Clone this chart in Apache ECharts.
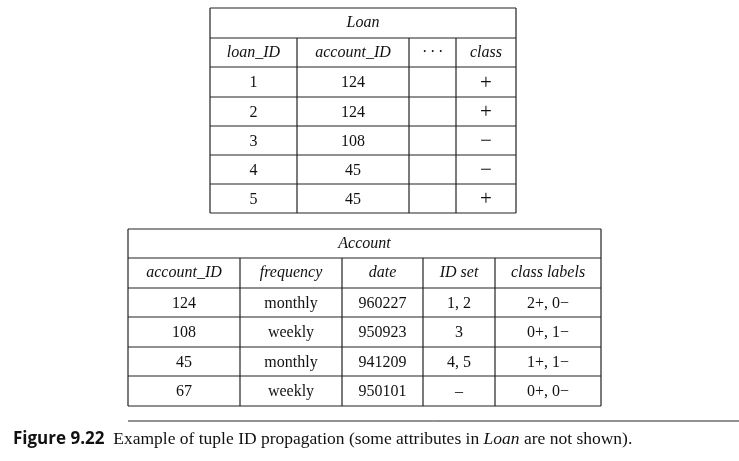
<!DOCTYPE html>
<html><head><meta charset="utf-8">
<script src="https://cdn.jsdelivr.net/npm/echarts@6/dist/echarts.min.js"></script>
<style>html,body{margin:0;background:#fff}#c{width:739px;height:461px}</style>
</head><body><div id="c"></div>
<script>
const loanTitle = 'Loan';
const loanHeaders = ['loan_ID', 'account_ID', '\u00b7 \u00b7 \u00b7', 'class'];
const loanRows = [
  ['1', '124', '', '+'],
  ['2', '124', '', '+'],
  ['3', '108', '', '\u2212'],
  ['4', '45', '', '\u2212'],
  ['5', '45', '', '+']
];
const accountTitle = 'Account';
const accountHeaders = ['account_ID', 'frequency', 'date', 'ID set', 'class labels'];
const accountRows = [
  ['124', 'monthly', '960227', '1, 2', '2+, 0\u2212'],
  ['108', 'weekly', '950923', '3', '0+, 1\u2212'],
  ['45', 'monthly', '941209', '4, 5', '1+, 1\u2212'],
  ['67', 'weekly', '950101', '\u2013', '0+, 0\u2212']
];
const captionBold = 'Figure 9.22';
const captionText = 'Example of tuple ID propagation (some attributes in ';
const captionItalic = 'Loan';
const captionEnd = ' are not shown).';

const serif = '"Liberation Serif", "DejaVu Serif", serif';
const els = [];
function line(x1,y1,x2,y2,w){els.push({type:'line',shape:{x1,y1,x2,y2},style:{stroke:'#222',lineWidth:w||1.2}});}
function txt(x,y,t,italic,size,align){els.push({type:'text',x,y,style:{text:t,font:(italic?'italic ':'')+(size||16)+'px '+serif,fill:'#111',align:align||'center',verticalAlign:'middle'}});}
function table(cols, ys, title, headers, rows){
  const L=cols[0], R=cols[cols.length-1];
  ys.forEach(y=>line(L,y,R,y));
  line(L,ys[0],L,ys[ys.length-1]); line(R,ys[0],R,ys[ys.length-1]);
  for(let i=1;i<cols.length-1;i++) line(cols[i],ys[1],cols[i],ys[ys.length-1]);
  txt((L+R)/2,(ys[0]+ys[1])/2,title,true);
  headers.forEach((h,i)=>txt((cols[i]+cols[i+1])/2,(ys[1]+ys[2])/2,h,true));
  rows.forEach((r,j)=>r.forEach((v,i)=>{ if(v){ const big=(v==='+'||v==='\u2212'); txt((cols[i]+cols[i+1])/2,(ys[j+2]+ys[j+3])/2+1,v,false,big?21:16);} }));
}
table([210,297,409,456,516],[8,38,67,97,126,155,184,213],loanTitle,loanHeaders,loanRows);
table([128,240,342,423,495,601],[229,258,288,317,347,376,406],accountTitle,accountHeaders,accountRows);
line(128,421,739,421,1);
els.push({type:'text',x:13,y:439,style:{rich:{b:{font:'bold 17px "Open Sans", "Liberation Sans", sans-serif',fill:'#111'},n:{font:'17.5px '+serif,fill:'#111'},i:{font:'italic 17.5px '+serif,fill:'#111'}},text:'{b|'+captionBold+'}{n|  '+captionText+'}{i|'+captionItalic+'}{n|'+captionEnd+'}',verticalAlign:'middle'}});
const chart = echarts.init(document.getElementById('c'));
chart.setOption({animation:false,graphic:{elements:els}});
</script></body></html>
